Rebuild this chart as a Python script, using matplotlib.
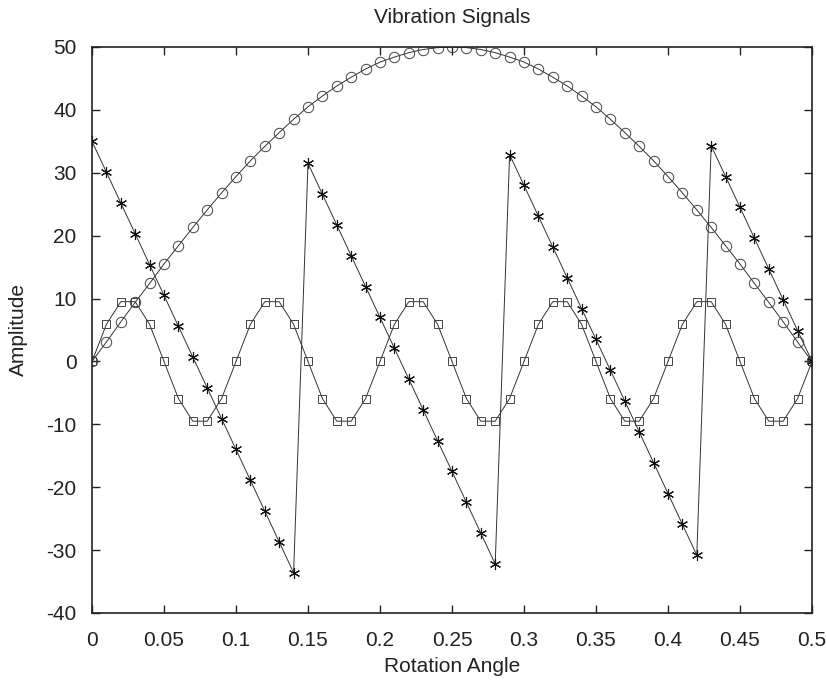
import numpy as np
import matplotlib
matplotlib.use("Agg")
from matplotlib import pyplot as plt

plt.rcParams['font.family'] = ['Liberation Sans', 'DejaVu Sans']
plt.rcParams['axes.unicode_minus'] = False

# rotation angle samples
angle = [round(0.01 * i, 2) for i in range(51)]

# slow sine-like signal (circles)
sig_circle = [0.0, 3.1, 6.3, 9.4, 12.4, 15.5, 18.4, 21.3, 24.1, 26.8, 29.4,
              31.9, 34.2, 36.4, 38.5, 40.5, 42.2, 43.8, 45.2, 46.5, 47.6,
              48.4, 49.1, 49.6, 49.9, 50.0, 49.9, 49.6, 49.1, 48.4, 47.6,
              46.5, 45.2, 43.8, 42.2, 40.5, 38.5, 36.4, 34.2, 31.9, 29.4,
              26.8, 24.1, 21.3, 18.4, 15.5, 12.4, 9.4, 6.3, 3.1, 0.0]

# fast oscillation (squares)
sig_square = [0.0, 5.9, 9.5, 9.5, 5.9, 0.0, -5.9, -9.5, -9.5, -5.9,
              0.0, 5.9, 9.5, 9.5, 5.9, 0.0, -5.9, -9.5, -9.5, -5.9,
              0.0, 5.9, 9.5, 9.5, 5.9, 0.0, -5.9, -9.5, -9.5, -5.9,
              0.0, 5.9, 9.5, 9.5, 5.9, 0.0, -5.9, -9.5, -9.5, -5.9,
              0.0, 5.9, 9.5, 9.5, 5.9, 0.0, -5.9, -9.5, -9.5, -5.9, 0.0]

# sawtooth (asterisks)
sig_star = [35.0, 30.1, 25.2, 20.3, 15.4, 10.5, 5.6, 0.7, -4.2, -9.1,
            -14.0, -18.9, -23.8, -28.7, -33.6, 31.5, 26.6, 21.7, 16.8, 11.9,
            7.0, 2.1, -2.8, -7.7, -12.6, -17.5, -22.4, -27.3, -32.2, 32.9,
            28.0, 23.1, 18.2, 13.3, 8.4, 3.5, -1.4, -6.3, -11.2, -16.1,
            -21.0, -25.9, -30.8, 34.3, 29.4, 24.5, 19.6, 14.7, 9.8, 4.9, 0.0]

fig = plt.figure(figsize=(8.26, 6.82), dpi=100)
ax = fig.add_axes([92 / 826, 1 - 613 / 682, (812 - 92) / 826, (613 - 47) / 682])

lc = '#333333'
ax.plot(angle, sig_circle, color=lc, lw=0.7, marker='o', ms=7.5,
        mfc='none', mec='#444444', mew=0.7)
ax.plot(angle, sig_square, color=lc, lw=0.7, marker='s', ms=6,
        mfc='none', mec='#444444', mew=0.7)
ax.plot(angle, sig_star, color=lc, lw=0.7, marker=(6, 2, 0), ms=8,
        mec='#111111', mew=0.8)

ax.set_xlim(0, 0.5)
ax.set_ylim(-40, 50)
ax.set_xticks(np.arange(0, 0.51, 0.05))
ax.set_xticklabels(['0', '0.05', '0.1', '0.15', '0.2', '0.25', '0.3',
                    '0.35', '0.4', '0.45', '0.5'])
ax.set_yticks(np.arange(-40, 51, 10))
ax.tick_params(direction='in', top=True, right=True, length=6, width=1,
               labelsize=15, colors='#222222')
ax.tick_params(axis='x', pad=13)
ax.tick_params(axis='y', pad=11)
for s in ax.spines.values():
    s.set_linewidth(1.2)
    s.set_color('#222222')

ax.set_title('Vibration Signals', fontsize=15, color='#222222', pad=17)
ax.set_xlabel('Rotation Angle', fontsize=15, color='#222222', labelpad=5)
ax.set_ylabel('Amplitude', fontsize=15, color='#222222', labelpad=13)

fig.savefig('out.png', dpi=100)
